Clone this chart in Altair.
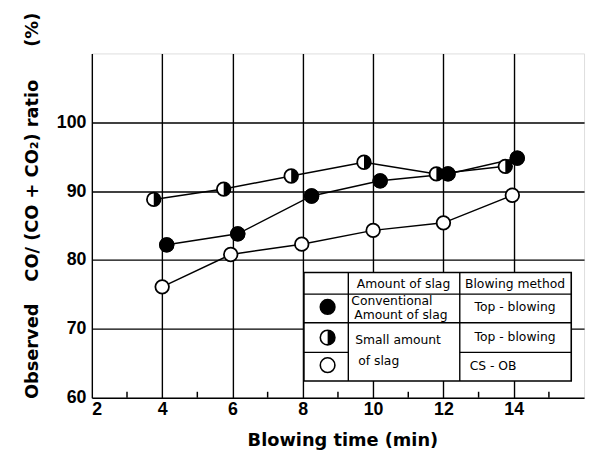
import altair as alt
import pandas as pd

# ---- data ----
time_filled = [4.13, 6.15, 8.25, 10.2, 12.13, 14.1]
ratio_filled = [82.2, 83.8, 89.3, 91.5, 92.5, 94.8]
time_half = [3.76, 5.75, 7.67, 9.74, 11.8, 13.76]
ratio_half = [88.8, 90.3, 92.2, 94.2, 92.5, 93.6]
time_open = [4.0, 5.95, 7.97, 10.0, 12.0, 13.96]
ratio_open = [76.1, 80.8, 82.3, 84.3, 85.4, 89.4]

x_ticks = [2, 4, 6, 8, 10, 12, 14]
x_minor = [3, 5, 7, 9, 11, 13, 15]
y_ticks = [60, 70, 80, 90, 100]

x_title = "Blowing time (min)"
y_title_parts = ["Observed", "CO/ (CO + CO\u2082) ratio", "(%)"]
legend_header = ["Amount of slag", "Blowing method"]
legend_amount = ["Conventional", "Amount of slag", "Small amount", "of slag"]
legend_method = ["Top - blowing", "Top - blowing", "CS - OB"]

FONT = "Liberation Sans"
TFONT = "DejaVu Sans"
W, H = 499, 349

df = pd.concat([
    pd.DataFrame({"t": time_filled, "r": ratio_filled, "s": "filled"}),
    pd.DataFrame({"t": time_half, "r": ratio_half, "s": "half"}),
    pd.DataFrame({"t": time_open, "r": ratio_open, "s": "open"}),
], ignore_index=True)

xs = alt.Scale(domain=[2, 16], nice=False, zero=False)
ys = alt.Scale(domain=[60, 110], nice=False, zero=False)

x_axis = alt.Axis(values=x_ticks, grid=True, gridColor="black", gridWidth=1.4, gridOpacity=1,
                  ticks=False, domain=False, labelFont=FONT, labelFontSize=18, labelFontWeight="bold",
                  labelColor="black", labelPadding=3, title=x_title, titleFont=TFONT, titleFontSize=18,
                  titleFontWeight="bold", titleColor="black", titlePadding=13, titleX=254)
y_axis = alt.Axis(values=y_ticks, grid=True, gridColor="black", gridWidth=1.4, gridOpacity=1,
                  ticks=False, domain=False, labelFont=FONT, labelFontSize=18, labelFontWeight="bold",
                  labelColor="black", labelPadding=6, title=None)

lines = alt.Chart(df).mark_line(color="black", strokeWidth=1.5).encode(
    x=alt.X("t:Q", scale=xs, axis=x_axis),
    y=alt.Y("r:Q", scale=ys, axis=y_axis),
    detail="s:N",
)

SIZE = 190
base_pts = alt.Chart(df).mark_point(shape="circle", filled=True, fill="white", stroke="black",
                                    strokeWidth=1.8, size=SIZE, opacity=1).encode(
    x=alt.X("t:Q", scale=xs), y=alt.Y("r:Q", scale=ys))
filled_pts = alt.Chart(df).transform_filter(alt.datum.s == "filled").mark_point(
    shape="circle", filled=True, fill="black", stroke="black", strokeWidth=1.8, size=SIZE, opacity=1).encode(
    x=alt.X("t:Q", scale=xs), y=alt.Y("r:Q", scale=ys))
HALF = "M0,-1 A1,1 0 0,1 0,1 Z"
half_pts = alt.Chart(df).transform_filter(alt.datum.s == "half").mark_point(
    shape=HALF, filled=True, fill="black", strokeWidth=0, size=SIZE, opacity=1).encode(
    x=alt.X("t:Q", scale=xs), y=alt.Y("r:Q", scale=ys))

minor = alt.Chart(pd.DataFrame({"m": x_minor})).mark_rule(color="black", strokeWidth=1.5).encode(
    x=alt.X("m:Q", scale=xs), y=alt.value(H), y2=alt.value(H - 6))

# ---- y title as three rotated texts ----
ytitle = alt.Chart(pd.DataFrame({
    "txt": y_title_parts, "px": [-60, -60, -60], "py": [302, 129, -24]})).mark_text(
    angle=270, font=TFONT, fontSize=18, fontWeight="bold", color="black", align="center", baseline="middle").encode(
    x=alt.X("px:Q", scale=None), y=alt.Y("py:Q", scale=None), text="txt:N")

# ---- legend table ----
L, R, T, B = 215, 486, 222, 332
C1, C2 = 260, 373
R1, R2, R3 = 244, 273, 303
box = alt.Chart(pd.DataFrame({"a": [0]})).mark_rect(fill="white", stroke="black", strokeWidth=1.6).encode(
    x=alt.value(L), x2=alt.value(R), y=alt.value(T), y2=alt.value(B))
segs = pd.DataFrame({
    "x1": [L, L, L, C2, C1, C2],
    "x2": [R, R, C1, R, C1, C2],
    "y1": [R1, R2, R3, R3, T, T],
    "y2": [R1, R2, R3, R3, B, B],
})
seg_rules = alt.Chart(segs).mark_rule(color="black", strokeWidth=1.4).encode(
    x=alt.X("x1:Q", scale=None), x2="x2:Q", y=alt.Y("y1:Q", scale=None), y2="y2:Q")

centered = pd.DataFrame({
    "txt": legend_header + legend_method[:2],
    "px": [316, 429, 429, 429],
    "py": [234, 234, 257, 288],
})
lefted = pd.DataFrame({
    "txt": legend_amount + legend_method[2:],
    "px": [263, 266, 267, 270, 383],
    "py": [251, 265, 291, 312, 317],
})
t_center = alt.Chart(centered).mark_text(font=TFONT, fontSize=12.5, color="black", align="center",
                                         baseline="middle").encode(
    x=alt.X("px:Q", scale=None), y=alt.Y("py:Q", scale=None), text="txt:N")
t_left = alt.Chart(lefted).mark_text(font=TFONT, fontSize=12.5, color="black", align="left",
                                     baseline="middle").encode(
    x=alt.X("px:Q", scale=None), y=alt.Y("py:Q", scale=None), text="txt:N")

sym = pd.DataFrame({"s": ["filled", "half", "open"], "px": [239, 239, 239], "py": [257, 288, 316]})
sym_base = alt.Chart(sym).mark_point(shape="circle", filled=True, stroke="black",
                                     strokeWidth=1.6, size=220, opacity=1).encode(
    x=alt.X("px:Q", scale=None), y=alt.Y("py:Q", scale=None),
    fill=alt.condition(alt.datum.s == "filled", alt.value("black"), alt.value("white")))
sym_half = alt.Chart(sym).transform_filter(alt.datum.s == "half").mark_point(
    shape=HALF, filled=True, fill="black", strokeWidth=0, size=220, opacity=1).encode(
    x=alt.X("px:Q", scale=None), y=alt.Y("py:Q", scale=None))

chart = alt.layer(
    lines, base_pts, filled_pts, half_pts, minor, ytitle,
    box, seg_rules, t_center, t_left, sym_base, sym_half,
).properties(
    width=W, height=H,
    autosize=alt.AutoSizeParams(type="none"),
    padding={"left": 85, "top": 43, "right": 5, "bottom": 53},
).configure_view(stroke="black", strokeWidth=2).configure(background="white")

chart.save("out.html", embed_options={"renderer": "svg", "actions": False})
